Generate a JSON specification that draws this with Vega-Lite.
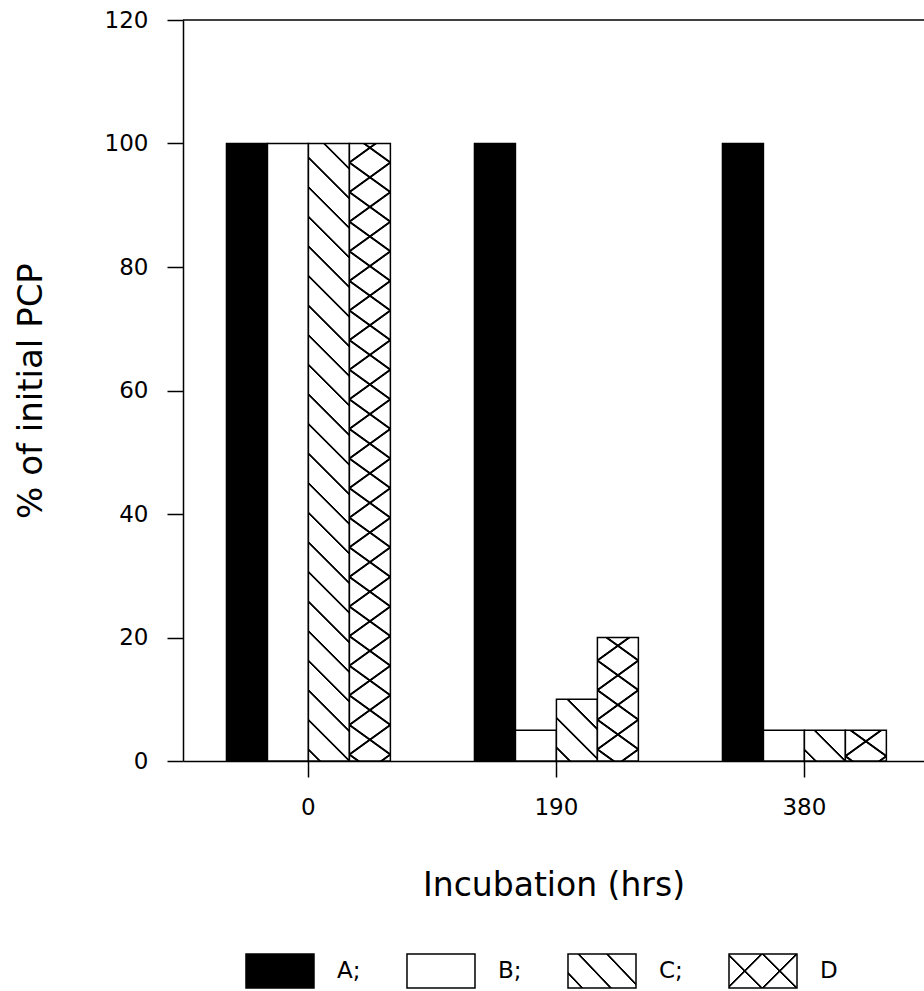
{
  "$schema": "https://vega.github.io/schema/vega-lite/v6.json",
  "background": "white",
  "padding": {"left": 14, "top": 9, "right": 0, "bottom": 0},
  "spacing": 51,
  "datasets": {
    "pcp": [
      {"time": 0, "series": "A", "pct": 100},
      {"time": 0, "series": "B", "pct": 100},
      {"time": 0, "series": "C", "pct": 100},
      {"time": 0, "series": "D", "pct": 100},
      {"time": 190, "series": "A", "pct": 100},
      {"time": 190, "series": "B", "pct": 5},
      {"time": 190, "series": "C", "pct": 10},
      {"time": 190, "series": "D", "pct": 20},
      {"time": 380, "series": "A", "pct": 100},
      {"time": 380, "series": "B", "pct": 5},
      {"time": 380, "series": "C", "pct": 5},
      {"time": 380, "series": "D", "pct": 5}
    ],
    "legend": [
      {"series": "A", "label": "A;"},
      {"series": "B", "label": "B;"},
      {"series": "C", "label": "C;"},
      {"series": "D", "label": "D"}
    ]
  },
  "vconcat": [
    {
      "width": 741,
      "height": 741,
      "data": {"name": "pcp"},
      "layer": [
        {
          "encoding": {
            "x": {"field": "time", "type": "ordinal", "scale": {"paddingInner": 0.339, "paddingOuter": 0.1635, "align": 0.536},
                  "axis": {"title": "Incubation (hrs)", "labelAngle": 0, "tickSize": 16, "labelPadding": 19, "titlePadding": 50}},
            "xOffset": {"field": "series", "type": "nominal"},
            "y": {"field": "pct", "type": "quantitative", "scale": {"domain": [0, 120], "nice": false},
                  "axis": {"title": "% of initial PCP", "titleFontSize": 34, "values": [0, 20, 40, 60, 80, 100, 120], "tickSize": 16, "labelPadding": 19, "titlePadding": 56}}
          },
          "layer": [
            {"mark": {"type": "bar", "stroke": "#000", "strokeWidth": 1.5},
             "encoding": {"fill": {"field": "series", "type": "nominal", "scale": {"domain": ["A", "B", "C", "D"], "range": ["#000", "#fff", "#fff", "#fff"]}, "legend": null}}},
            {"transform": [{"filter": "datum.series === 'C' && datum.time === 0"}],
             "mark": {"type": "bar", "stroke": null, "fill": {"gradient": "linear", "x1": 0, "y1": -0.09717, "x2": -0.07922, "y2": 1.09595, "stops": [
{"offset":0.0577,"color":"transparent"},{"offset":0.0589,"color":"#000"},{"offset":0.0611,"color":"#000"},{"offset":0.0623,"color":"transparent"},
{"offset":0.0977,"color":"transparent"},{"offset":0.0989,"color":"#000"},{"offset":0.1011,"color":"#000"},{"offset":0.1023,"color":"transparent"},
{"offset":0.1377,"color":"transparent"},{"offset":0.1389,"color":"#000"},{"offset":0.1411,"color":"#000"},{"offset":0.1423,"color":"transparent"},
{"offset":0.1777,"color":"transparent"},{"offset":0.1789,"color":"#000"},{"offset":0.1811,"color":"#000"},{"offset":0.1823,"color":"transparent"},
{"offset":0.2177,"color":"transparent"},{"offset":0.2189,"color":"#000"},{"offset":0.2211,"color":"#000"},{"offset":0.2223,"color":"transparent"},
{"offset":0.2577,"color":"transparent"},{"offset":0.2589,"color":"#000"},{"offset":0.2611,"color":"#000"},{"offset":0.2623,"color":"transparent"},
{"offset":0.2977,"color":"transparent"},{"offset":0.2989,"color":"#000"},{"offset":0.3011,"color":"#000"},{"offset":0.3023,"color":"transparent"},
{"offset":0.3377,"color":"transparent"},{"offset":0.3389,"color":"#000"},{"offset":0.3411,"color":"#000"},{"offset":0.3423,"color":"transparent"},
{"offset":0.3777,"color":"transparent"},{"offset":0.3789,"color":"#000"},{"offset":0.3811,"color":"#000"},{"offset":0.3823,"color":"transparent"},
{"offset":0.4177,"color":"transparent"},{"offset":0.4189,"color":"#000"},{"offset":0.4211,"color":"#000"},{"offset":0.4223,"color":"transparent"},
{"offset":0.4577,"color":"transparent"},{"offset":0.4589,"color":"#000"},{"offset":0.4611,"color":"#000"},{"offset":0.4623,"color":"transparent"},
{"offset":0.4977,"color":"transparent"},{"offset":0.4989,"color":"#000"},{"offset":0.5011,"color":"#000"},{"offset":0.5023,"color":"transparent"},
{"offset":0.5377,"color":"transparent"},{"offset":0.5389,"color":"#000"},{"offset":0.5411,"color":"#000"},{"offset":0.5423,"color":"transparent"},
{"offset":0.5777,"color":"transparent"},{"offset":0.5789,"color":"#000"},{"offset":0.5811,"color":"#000"},{"offset":0.5823,"color":"transparent"},
{"offset":0.6177,"color":"transparent"},{"offset":0.6189,"color":"#000"},{"offset":0.6211,"color":"#000"},{"offset":0.6223,"color":"transparent"},
{"offset":0.6577,"color":"transparent"},{"offset":0.6589,"color":"#000"},{"offset":0.6611,"color":"#000"},{"offset":0.6623,"color":"transparent"},
{"offset":0.6977,"color":"transparent"},{"offset":0.6989,"color":"#000"},{"offset":0.7011,"color":"#000"},{"offset":0.7023,"color":"transparent"},
{"offset":0.7377,"color":"transparent"},{"offset":0.7389,"color":"#000"},{"offset":0.7411,"color":"#000"},{"offset":0.7423,"color":"transparent"},
{"offset":0.7777,"color":"transparent"},{"offset":0.7789,"color":"#000"},{"offset":0.7811,"color":"#000"},{"offset":0.7823,"color":"transparent"},
{"offset":0.8177,"color":"transparent"},{"offset":0.8189,"color":"#000"},{"offset":0.8211,"color":"#000"},{"offset":0.8223,"color":"transparent"},
{"offset":0.8577,"color":"transparent"},{"offset":0.8589,"color":"#000"},{"offset":0.8611,"color":"#000"},{"offset":0.8623,"color":"transparent"},
{"offset":0.8977,"color":"transparent"},{"offset":0.8989,"color":"#000"},{"offset":0.9011,"color":"#000"},{"offset":0.9023,"color":"transparent"}
             ]}}},
            {"transform": [{"filter": "datum.series === 'D' && datum.time === 0"}],
             "mark": {"type": "bar", "stroke": null, "fill": {"gradient": "linear", "x1": 0, "y1": -0.08907, "x2": -0.05732, "y2": 1.10656, "stops": [
{"offset":0.0577,"color":"transparent"},{"offset":0.0589,"color":"#000"},{"offset":0.0611,"color":"#000"},{"offset":0.0623,"color":"transparent"},
{"offset":0.0977,"color":"transparent"},{"offset":0.0989,"color":"#000"},{"offset":0.1011,"color":"#000"},{"offset":0.1023,"color":"transparent"},
{"offset":0.1377,"color":"transparent"},{"offset":0.1389,"color":"#000"},{"offset":0.1411,"color":"#000"},{"offset":0.1423,"color":"transparent"},
{"offset":0.1777,"color":"transparent"},{"offset":0.1789,"color":"#000"},{"offset":0.1811,"color":"#000"},{"offset":0.1823,"color":"transparent"},
{"offset":0.2177,"color":"transparent"},{"offset":0.2189,"color":"#000"},{"offset":0.2211,"color":"#000"},{"offset":0.2223,"color":"transparent"},
{"offset":0.2577,"color":"transparent"},{"offset":0.2589,"color":"#000"},{"offset":0.2611,"color":"#000"},{"offset":0.2623,"color":"transparent"},
{"offset":0.2977,"color":"transparent"},{"offset":0.2989,"color":"#000"},{"offset":0.3011,"color":"#000"},{"offset":0.3023,"color":"transparent"},
{"offset":0.3377,"color":"transparent"},{"offset":0.3389,"color":"#000"},{"offset":0.3411,"color":"#000"},{"offset":0.3423,"color":"transparent"},
{"offset":0.3777,"color":"transparent"},{"offset":0.3789,"color":"#000"},{"offset":0.3811,"color":"#000"},{"offset":0.3823,"color":"transparent"},
{"offset":0.4177,"color":"transparent"},{"offset":0.4189,"color":"#000"},{"offset":0.4211,"color":"#000"},{"offset":0.4223,"color":"transparent"},
{"offset":0.4577,"color":"transparent"},{"offset":0.4589,"color":"#000"},{"offset":0.4611,"color":"#000"},{"offset":0.4623,"color":"transparent"},
{"offset":0.4977,"color":"transparent"},{"offset":0.4989,"color":"#000"},{"offset":0.5011,"color":"#000"},{"offset":0.5023,"color":"transparent"},
{"offset":0.5377,"color":"transparent"},{"offset":0.5389,"color":"#000"},{"offset":0.5411,"color":"#000"},{"offset":0.5423,"color":"transparent"},
{"offset":0.5777,"color":"transparent"},{"offset":0.5789,"color":"#000"},{"offset":0.5811,"color":"#000"},{"offset":0.5823,"color":"transparent"},
{"offset":0.6177,"color":"transparent"},{"offset":0.6189,"color":"#000"},{"offset":0.6211,"color":"#000"},{"offset":0.6223,"color":"transparent"},
{"offset":0.6577,"color":"transparent"},{"offset":0.6589,"color":"#000"},{"offset":0.6611,"color":"#000"},{"offset":0.6623,"color":"transparent"},
{"offset":0.6977,"color":"transparent"},{"offset":0.6989,"color":"#000"},{"offset":0.7011,"color":"#000"},{"offset":0.7023,"color":"transparent"},
{"offset":0.7377,"color":"transparent"},{"offset":0.7389,"color":"#000"},{"offset":0.7411,"color":"#000"},{"offset":0.7423,"color":"transparent"},
{"offset":0.7777,"color":"transparent"},{"offset":0.7789,"color":"#000"},{"offset":0.7811,"color":"#000"},{"offset":0.7823,"color":"transparent"},
{"offset":0.8177,"color":"transparent"},{"offset":0.8189,"color":"#000"},{"offset":0.8211,"color":"#000"},{"offset":0.8223,"color":"transparent"},
{"offset":0.8577,"color":"transparent"},{"offset":0.8589,"color":"#000"},{"offset":0.8611,"color":"#000"},{"offset":0.8623,"color":"transparent"},
{"offset":0.8977,"color":"transparent"},{"offset":0.8989,"color":"#000"},{"offset":0.9011,"color":"#000"},{"offset":0.9023,"color":"transparent"}
             ]}}},
            {"transform": [{"filter": "datum.series === 'D' && datum.time === 0"}],
             "mark": {"type": "bar", "stroke": null, "fill": {"gradient": "linear", "x1": 0, "y1": -0.04113, "x2": 0.05732, "y2": 1.1545, "stops": [
{"offset":0.0577,"color":"transparent"},{"offset":0.0589,"color":"#000"},{"offset":0.0611,"color":"#000"},{"offset":0.0623,"color":"transparent"},
{"offset":0.0977,"color":"transparent"},{"offset":0.0989,"color":"#000"},{"offset":0.1011,"color":"#000"},{"offset":0.1023,"color":"transparent"},
{"offset":0.1377,"color":"transparent"},{"offset":0.1389,"color":"#000"},{"offset":0.1411,"color":"#000"},{"offset":0.1423,"color":"transparent"},
{"offset":0.1777,"color":"transparent"},{"offset":0.1789,"color":"#000"},{"offset":0.1811,"color":"#000"},{"offset":0.1823,"color":"transparent"},
{"offset":0.2177,"color":"transparent"},{"offset":0.2189,"color":"#000"},{"offset":0.2211,"color":"#000"},{"offset":0.2223,"color":"transparent"},
{"offset":0.2577,"color":"transparent"},{"offset":0.2589,"color":"#000"},{"offset":0.2611,"color":"#000"},{"offset":0.2623,"color":"transparent"},
{"offset":0.2977,"color":"transparent"},{"offset":0.2989,"color":"#000"},{"offset":0.3011,"color":"#000"},{"offset":0.3023,"color":"transparent"},
{"offset":0.3377,"color":"transparent"},{"offset":0.3389,"color":"#000"},{"offset":0.3411,"color":"#000"},{"offset":0.3423,"color":"transparent"},
{"offset":0.3777,"color":"transparent"},{"offset":0.3789,"color":"#000"},{"offset":0.3811,"color":"#000"},{"offset":0.3823,"color":"transparent"},
{"offset":0.4177,"color":"transparent"},{"offset":0.4189,"color":"#000"},{"offset":0.4211,"color":"#000"},{"offset":0.4223,"color":"transparent"},
{"offset":0.4577,"color":"transparent"},{"offset":0.4589,"color":"#000"},{"offset":0.4611,"color":"#000"},{"offset":0.4623,"color":"transparent"},
{"offset":0.4977,"color":"transparent"},{"offset":0.4989,"color":"#000"},{"offset":0.5011,"color":"#000"},{"offset":0.5023,"color":"transparent"},
{"offset":0.5377,"color":"transparent"},{"offset":0.5389,"color":"#000"},{"offset":0.5411,"color":"#000"},{"offset":0.5423,"color":"transparent"},
{"offset":0.5777,"color":"transparent"},{"offset":0.5789,"color":"#000"},{"offset":0.5811,"color":"#000"},{"offset":0.5823,"color":"transparent"},
{"offset":0.6177,"color":"transparent"},{"offset":0.6189,"color":"#000"},{"offset":0.6211,"color":"#000"},{"offset":0.6223,"color":"transparent"},
{"offset":0.6577,"color":"transparent"},{"offset":0.6589,"color":"#000"},{"offset":0.6611,"color":"#000"},{"offset":0.6623,"color":"transparent"},
{"offset":0.6977,"color":"transparent"},{"offset":0.6989,"color":"#000"},{"offset":0.7011,"color":"#000"},{"offset":0.7023,"color":"transparent"},
{"offset":0.7377,"color":"transparent"},{"offset":0.7389,"color":"#000"},{"offset":0.7411,"color":"#000"},{"offset":0.7423,"color":"transparent"},
{"offset":0.7777,"color":"transparent"},{"offset":0.7789,"color":"#000"},{"offset":0.7811,"color":"#000"},{"offset":0.7823,"color":"transparent"},
{"offset":0.8177,"color":"transparent"},{"offset":0.8189,"color":"#000"},{"offset":0.8211,"color":"#000"},{"offset":0.8223,"color":"transparent"},
{"offset":0.8577,"color":"transparent"},{"offset":0.8589,"color":"#000"},{"offset":0.8611,"color":"#000"},{"offset":0.8623,"color":"transparent"},
{"offset":0.8977,"color":"transparent"},{"offset":0.8989,"color":"#000"},{"offset":0.9011,"color":"#000"},{"offset":0.9023,"color":"transparent"}
             ]}}},
            {"transform": [{"filter": "datum.series === 'C' && datum.time === 190"}],
             "mark": {"type": "bar", "stroke": null, "fill": {"gradient": "linear", "x1": 0, "y1": -0.89717, "x2": -0.88357, "y2": 0.43358, "stops": [
{"offset":0.3606,"color":"transparent"},{"offset":0.3678,"color":"#000"},{"offset":0.3822,"color":"#000"},{"offset":0.3894,"color":"transparent"},
{"offset":0.6106,"color":"transparent"},{"offset":0.6178,"color":"#000"},{"offset":0.6322,"color":"#000"},{"offset":0.6394,"color":"transparent"},
{"offset":0.8606,"color":"transparent"},{"offset":0.8678,"color":"#000"},{"offset":0.8822,"color":"#000"},{"offset":0.8894,"color":"transparent"}
             ]}}},
            {"transform": [{"filter": "datum.series === 'C' && datum.time === 380"}],
             "mark": {"type": "bar", "stroke": null, "fill": {"gradient": "linear", "x1": 0, "y1": -1.76194, "x2": -1.38209, "y2": -0.72116, "stops": [
{"offset":0.4809,"color":"transparent"},{"offset":0.4904,"color":"#000"},{"offset":0.5096,"color":"#000"},{"offset":0.5191,"color":"transparent"},
{"offset":0.8142,"color":"transparent"},{"offset":0.8237,"color":"#000"},{"offset":0.8429,"color":"#000"},{"offset":0.8524,"color":"transparent"}
             ]}}},
            {"transform": [{"filter": "datum.series === 'D' && datum.time === 190"}],
             "mark": {"type": "bar", "stroke": null, "fill": {"gradient": "linear", "x1": 0, "y1": -0.17328, "x2": -0.27164, "y2": 0.95999, "stops": [
{"offset":0.0885,"color":"transparent"},{"offset":0.0943,"color":"#000"},{"offset":0.1057,"color":"#000"},{"offset":0.1115,"color":"transparent"},
{"offset":0.2885,"color":"transparent"},{"offset":0.2943,"color":"#000"},{"offset":0.3057,"color":"#000"},{"offset":0.3115,"color":"transparent"},
{"offset":0.4885,"color":"transparent"},{"offset":0.4943,"color":"#000"},{"offset":0.5057,"color":"#000"},{"offset":0.5115,"color":"transparent"},
{"offset":0.6885,"color":"transparent"},{"offset":0.6943,"color":"#000"},{"offset":0.7057,"color":"#000"},{"offset":0.7115,"color":"transparent"},
{"offset":0.8885,"color":"transparent"},{"offset":0.8943,"color":"#000"},{"offset":0.9057,"color":"#000"},{"offset":0.9115,"color":"transparent"}
             ]}}},
            {"transform": [{"filter": "datum.series === 'D' && datum.time === 190"}],
             "mark": {"type": "bar", "stroke": null, "fill": {"gradient": "linear", "x1": 0, "y1": 0.0664, "x2": 0.27164, "y2": 1.19967, "stops": [
{"offset":0.0885,"color":"transparent"},{"offset":0.0943,"color":"#000"},{"offset":0.1057,"color":"#000"},{"offset":0.1115,"color":"transparent"},
{"offset":0.2885,"color":"transparent"},{"offset":0.2943,"color":"#000"},{"offset":0.3057,"color":"#000"},{"offset":0.3115,"color":"transparent"},
{"offset":0.4885,"color":"transparent"},{"offset":0.4943,"color":"#000"},{"offset":0.5057,"color":"#000"},{"offset":0.5115,"color":"transparent"},
{"offset":0.6885,"color":"transparent"},{"offset":0.6943,"color":"#000"},{"offset":0.7057,"color":"#000"},{"offset":0.7115,"color":"transparent"},
{"offset":0.8885,"color":"transparent"},{"offset":0.8943,"color":"#000"},{"offset":0.9057,"color":"#000"},{"offset":0.9115,"color":"transparent"}
             ]}}},
            {"transform": [{"filter": "datum.series === 'D' && datum.time === 380"}],
             "mark": {"type": "bar", "stroke": null, "fill": {"gradient": "linear", "x1": 0, "y1": -0.59595, "x2": -0.95785, "y2": 0.40309, "stops": [
{"offset":0.2213,"color":"transparent"},{"offset":0.2356,"color":"#000"},{"offset":0.2644,"color":"#000"},{"offset":0.2787,"color":"transparent"},
{"offset":0.7213,"color":"transparent"},{"offset":0.7356,"color":"#000"},{"offset":0.7644,"color":"#000"},{"offset":0.7787,"color":"transparent"}
             ]}}},
            {"transform": [{"filter": "datum.series === 'D' && datum.time === 380"}],
             "mark": {"type": "bar", "stroke": null, "fill": {"gradient": "linear", "x1": 0, "y1": 0.36275, "x2": 0.95785, "y2": 1.36179, "stops": [
{"offset":0.2213,"color":"transparent"},{"offset":0.2356,"color":"#000"},{"offset":0.2644,"color":"#000"},{"offset":0.2787,"color":"transparent"},
{"offset":0.7213,"color":"transparent"},{"offset":0.7356,"color":"#000"},{"offset":0.7644,"color":"#000"},{"offset":0.7787,"color":"transparent"}
             ]}}}
          ]
        },
        {
          "data": {"values": [{}]},
          "mark": {"type": "rule", "stroke": "#000", "strokeWidth": 1.5},
          "encoding": {"y": {"datum": 120}}
        }
      ]
    },
    {
      "width": 741,
      "height": 34,
      "data": {"name": "legend"},
      "encoding": {
        "x": {"field": "series", "type": "nominal", "axis": null, "scale": {"paddingInner": 0, "paddingOuter": 0.3012, "align": 0.17}}
      },
      "layer": [
        {"mark": {"type": "bar", "width": 68, "stroke": "#000", "strokeWidth": 1.5},
         "encoding": {"fill": {"field": "series", "type": "nominal", "scale": {"domain": ["A", "B", "C", "D"], "range": ["#000", "#fff", "#fff", "#fff"]}, "legend": null}}},
        {"transform": [{"filter": "datum.series === 'C'"}],
         "mark": {"type": "bar", "width": 68, "stroke": null, "fill": {"gradient": "linear", "x1": 0, "y1": -1.64706, "x2": -1.02751, "y2": -1.15777, "stops": [
{"offset":0.1478,"color":"transparent"},{"offset":0.1573,"color":"#000"},{"offset":0.1761,"color":"#000"},{"offset":0.1856,"color":"transparent"},
{"offset":0.4811,"color":"transparent"},{"offset":0.4906,"color":"#000"},{"offset":0.5094,"color":"#000"},{"offset":0.5189,"color":"transparent"},
{"offset":0.8144,"color":"transparent"},{"offset":0.8239,"color":"#000"},{"offset":0.8427,"color":"#000"},{"offset":0.8522,"color":"transparent"}
         ]}}},
        {"transform": [{"filter": "datum.series === 'D'"}],
         "mark": {"type": "bar", "width": 68, "stroke": null, "fill": {"gradient": "linear", "x1": 0, "y1": -1.50588, "x2": -0.82353, "y2": -1.09412, "stops": [
{"offset":0.2257,"color":"transparent"},{"offset":0.2379,"color":"#000"},{"offset":0.2621,"color":"#000"},{"offset":0.2743,"color":"transparent"},
{"offset":0.7257,"color":"transparent"},{"offset":0.7379,"color":"#000"},{"offset":0.7621,"color":"#000"},{"offset":0.7743,"color":"transparent"}
         ]}}},
        {"transform": [{"filter": "datum.series === 'D'"}],
         "mark": {"type": "bar", "width": 68, "stroke": null, "fill": {"gradient": "linear", "x1": 0, "y1": 0.44706, "x2": 0.82353, "y2": 0.85882, "stops": [
{"offset":0.2257,"color":"transparent"},{"offset":0.2379,"color":"#000"},{"offset":0.2621,"color":"#000"},{"offset":0.2743,"color":"transparent"},
{"offset":0.7257,"color":"transparent"},{"offset":0.7379,"color":"#000"},{"offset":0.7621,"color":"#000"},{"offset":0.7743,"color":"transparent"}
         ]}}},
        {"mark": {"type": "text", "align": "left", "baseline": "middle", "dx": 57, "fontSize": 23, "font": "DejaVu Sans", "color": "#000"},
         "encoding": {"text": {"field": "label"}}}
      ]
    }
  ],
  "config": {
    "font": "DejaVu Sans",
    "view": {"stroke": null},
    "axis": {
      "grid": false,
      "domainColor": "#000", "domainWidth": 1.5,
      "tickColor": "#000", "tickWidth": 1.5,
      "labelColor": "#000", "labelFont": "DejaVu Sans", "labelFontSize": 23,
      "titleColor": "#000", "titleFont": "DejaVu Sans", "titleFontSize": 33, "titleFontWeight": "normal"
    }
  }
}
